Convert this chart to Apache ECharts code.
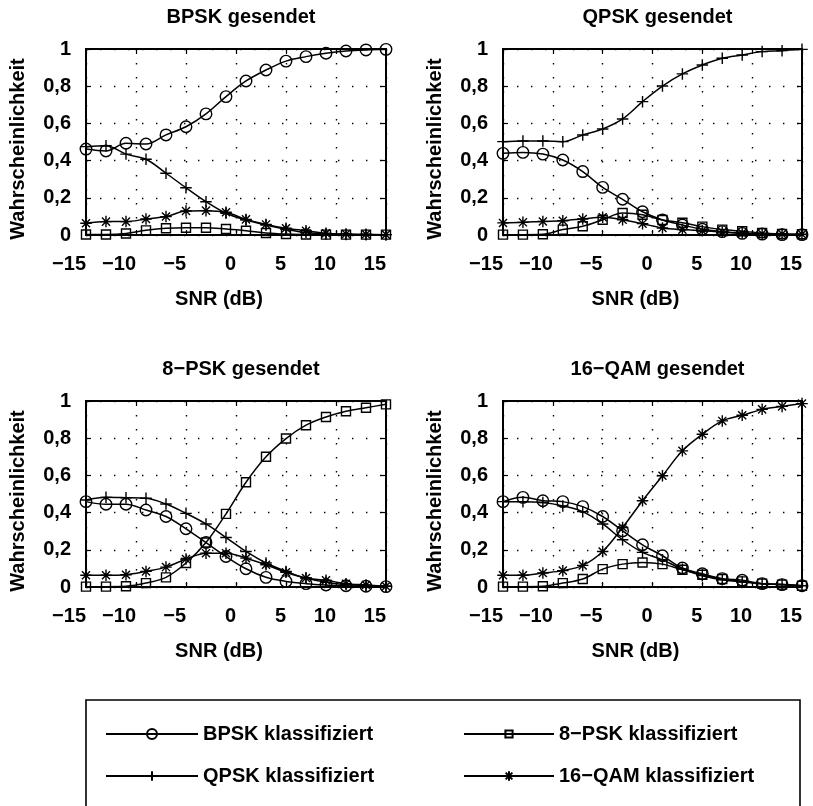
<!DOCTYPE html>
<html>
<head>
<meta charset="utf-8">
<script src="https://cdn.jsdelivr.net/npm/echarts@6/dist/echarts.min.js"></script>
<style>
html,body{margin:0;padding:0;background:#fff;}
#chart{width:813px;height:806px;}
</style>
</head>
<body>
<div id="chart"></div>
<script>
// ---------- data ----------
const snr = [-15, -13, -11, -9, -7, -5, -3, -1, 1, 3, 5, 7, 9, 11, 13, 15];
const xTicks = [-15, -10, -5, 0, 5, 10, 15];
const yTicks = [0, 0.2, 0.4, 0.6, 0.8, 1];
const panelTitles = ['BPSK gesendet', 'QPSK gesendet', '8\u2212PSK gesendet', '16\u2212QAM gesendet'];
const classNames = ['BPSK klassifiziert', 'QPSK klassifiziert', '8\u2212PSK klassifiziert', '16\u2212QAM klassifiziert'];

// BPSK gesendet
const bpskSent_BPSK  = [0.462,0.452,0.493,0.489,0.538,0.582,0.651,0.744,0.828,0.887,0.935,0.959,0.977,0.989,0.995,0.998];
const bpskSent_QPSK  = [0.475,0.480,0.435,0.407,0.332,0.254,0.179,0.117,0.081,0.054,0.031,0.013,0.005,0.003,0.002,0.002];
const bpskSent_8PSK  = [0.003,0.003,0.008,0.025,0.036,0.039,0.039,0.032,0.023,0.011,0.005,0.003,0.002,0.002,0.002,0.002];
const bpskSent_16QAM = [0.063,0.072,0.072,0.086,0.099,0.129,0.131,0.122,0.084,0.057,0.036,0.023,0.009,0.005,0.004,0.002];
// QPSK gesendet
const qpskSent_BPSK  = [0.439,0.444,0.435,0.403,0.341,0.256,0.192,0.125,0.081,0.054,0.031,0.018,0.009,0.005,0.002,0.002];
const qpskSent_QPSK  = [0.502,0.505,0.505,0.502,0.538,0.570,0.624,0.717,0.801,0.866,0.914,0.950,0.968,0.986,0.991,0.998];
const qpskSent_8PSK  = [0.002,0.002,0.004,0.029,0.047,0.082,0.118,0.109,0.081,0.066,0.045,0.029,0.020,0.011,0.005,0.004];
const qpskSent_16QAM = [0.065,0.068,0.073,0.077,0.086,0.095,0.082,0.061,0.038,0.029,0.023,0.016,0.011,0.007,0.005,0.004];
// 8-PSK gesendet
const psk8Sent_BPSK  = [0.459,0.445,0.445,0.414,0.379,0.313,0.239,0.164,0.098,0.052,0.030,0.018,0.011,0.007,0.004,0.002];
const psk8Sent_QPSK  = [0.468,0.482,0.480,0.477,0.446,0.396,0.339,0.266,0.191,0.129,0.084,0.048,0.025,0.013,0.007,0.004];
const psk8Sent_8PSK  = [0.002,0.002,0.004,0.021,0.052,0.129,0.239,0.393,0.563,0.700,0.798,0.870,0.914,0.945,0.964,0.982];
const psk8Sent_16QAM = [0.063,0.063,0.066,0.084,0.107,0.150,0.182,0.182,0.155,0.120,0.079,0.048,0.036,0.018,0.011,0.004];
// 16-QAM gesendet
const qam16Sent_BPSK  = [0.459,0.482,0.464,0.459,0.432,0.379,0.302,0.227,0.168,0.102,0.071,0.045,0.036,0.018,0.013,0.007];
const qam16Sent_QPSK  = [0.459,0.459,0.454,0.436,0.405,0.339,0.254,0.186,0.146,0.096,0.061,0.039,0.027,0.018,0.013,0.007];
const qam16Sent_8PSK  = [0.002,0.002,0.004,0.021,0.043,0.096,0.123,0.132,0.123,0.093,0.066,0.043,0.030,0.018,0.013,0.007];
const qam16Sent_16QAM = [0.063,0.063,0.075,0.088,0.116,0.191,0.320,0.464,0.598,0.732,0.821,0.893,0.923,0.955,0.971,0.986];

const panelData = [
  [bpskSent_BPSK, bpskSent_QPSK, bpskSent_8PSK, bpskSent_16QAM],
  [qpskSent_BPSK, qpskSent_QPSK, qpskSent_8PSK, qpskSent_16QAM],
  [psk8Sent_BPSK, psk8Sent_QPSK, psk8Sent_8PSK, psk8Sent_16QAM],
  [qam16Sent_BPSK, qam16Sent_QPSK, qam16Sent_8PSK, qam16Sent_16QAM]
];

// ---------- styling / layout ----------
const FONT = "'Liberation Sans', Arial, sans-serif";
const TXT = { color: '#000', fontFamily: FONT, fontWeight: 'bold', fontSize: 20 };
const grids = [
  { left: 86,  top: 49,  width: 300, height: 186 },
  { left: 503, top: 49,  width: 299, height: 186 },
  { left: 86,  top: 401, width: 300, height: 186 },
  { left: 503, top: 401, width: 299, height: 186 }
];
const PLUS = 'path://M5 0 L5 10 M0 5 L10 5';
const STAR = 'path://M5 0 L5 10 M0 5 L10 5 M1.5 1.5 L8.5 8.5 M8.5 1.5 L1.5 8.5';
const symbols = ['circle', PLUS, 'rect', STAR];
const symbolSizes = [11.5, 11.5, 9, 11.5];
const legendHeights = [12.5, 12, 9, 12];

const fmtX = v => String(v).replace('-', '\u2212');
const fmtY = v => (v === 0 ? '0' : v === 1 ? '1' : v.toFixed(1).replace('.', ','));
const dotted = { color: '#000', width: 1.4, type: [1.4, 12.6] };

const option = {
  animation: false,
  backgroundColor: '#fff',
  title: [], grid: [], xAxis: [], yAxis: [], series: [], legend: [],
  graphic: [{
    type: 'rect', shape: { x: 86, y: 700, width: 714, height: 130 },
    style: { fill: 'none', stroke: '#000', lineWidth: 1.6 }, silent: true
  }]
};

grids.forEach((g, i) => {
  option.grid.push(Object.assign({ show: true, borderColor: '#000', borderWidth: 2, backgroundColor: 'transparent', containLabel: false }, g));
  option.title.push({
    text: panelTitles[i], left: g.left + g.width / 2, top: g.top - 47, textAlign: 'center',
    textStyle: Object.assign({}, TXT)
  });
  const tick = { show: true, inside: true, length: 5, lineStyle: { color: '#000', width: 1.2 } };
  const noLine = { show: false, onZero: false };
  option.xAxis.push({
    gridIndex: i, type: 'value', position: 'bottom', min: xTicks[0], max: xTicks[xTicks.length - 1], interval: xTicks[1] - xTicks[0],
    axisLine: noLine, axisTick: tick,
    axisLabel: Object.assign({ formatter: fmtX, align: 'right', margin: 19 }, TXT),
    splitLine: { show: true, lineStyle: dotted },
    name: 'SNR (dB)', nameLocation: 'middle', nameGap: 54,
    nameTextStyle: Object.assign({ padding: [0, 34, 0, 0] }, TXT)
  });
  option.xAxis.push({
    gridIndex: i, type: 'value', position: 'top', min: xTicks[0], max: xTicks[xTicks.length - 1], interval: xTicks[1] - xTicks[0],
    axisLine: noLine, axisTick: tick, axisLabel: { show: false }, splitLine: { show: false }
  });
  option.yAxis.push({
    gridIndex: i, type: 'value', position: 'left', min: yTicks[0], max: yTicks[yTicks.length - 1], interval: yTicks[1] - yTicks[0],
    axisLine: noLine, axisTick: tick,
    axisLabel: Object.assign({ formatter: fmtY, margin: 15 }, TXT),
    splitLine: { show: true, lineStyle: dotted },
    name: 'Wahrscheinlichkeit', nameLocation: 'middle', nameRotate: 90, nameGap: 58,
    nameTextStyle: Object.assign({ padding: [0, 14, 0, 0] }, TXT)
  });
  option.yAxis.push({
    gridIndex: i, type: 'value', position: 'right', min: yTicks[0], max: yTicks[yTicks.length - 1], interval: yTicks[1] - yTicks[0],
    axisLine: noLine, axisTick: tick, axisLabel: { show: false }, splitLine: { show: false }
  });
  panelData[i].forEach((vals, s) => {
    option.series.push({
      type: 'line', name: classNames[s], xAxisIndex: 2 * i, yAxisIndex: 2 * i,
      data: snr.map((x, k) => [x, vals[k]]),
      smooth: 0.35, clip: false,
      symbol: symbols[s], symbolSize: symbolSizes[s], showAllSymbol: true,
      lineStyle: { color: '#000', width: 1.5 },
      itemStyle: { color: 'rgba(0,0,0,0)', borderColor: '#000', borderWidth: 1.4 },
      emphasis: { disabled: true }, silent: true
    });
  });
});

// legend: 2 columns x 2 rows
const legendPos = [
  { left: 105, cy: 735 }, { left: 105, cy: 777 },
  { left: 463, cy: 735 }, { left: 463, cy: 777 }
];
classNames.forEach((n, s) => {
  option.legend.push({
    data: [n], left: legendPos[s].left, top: legendPos[s].cy - 11, padding: 0,
    itemWidth: s < 2 ? 92 : 90, itemHeight: legendHeights[s], itemGap: 0, selectedMode: false,
    textStyle: Object.assign({}, TXT, { padding: [0, 0, 0, 0] })
  });
});

const chart = echarts.init(document.getElementById('chart'), null, { renderer: 'canvas' });
chart.setOption(option);
</script>
</body>
</html>
